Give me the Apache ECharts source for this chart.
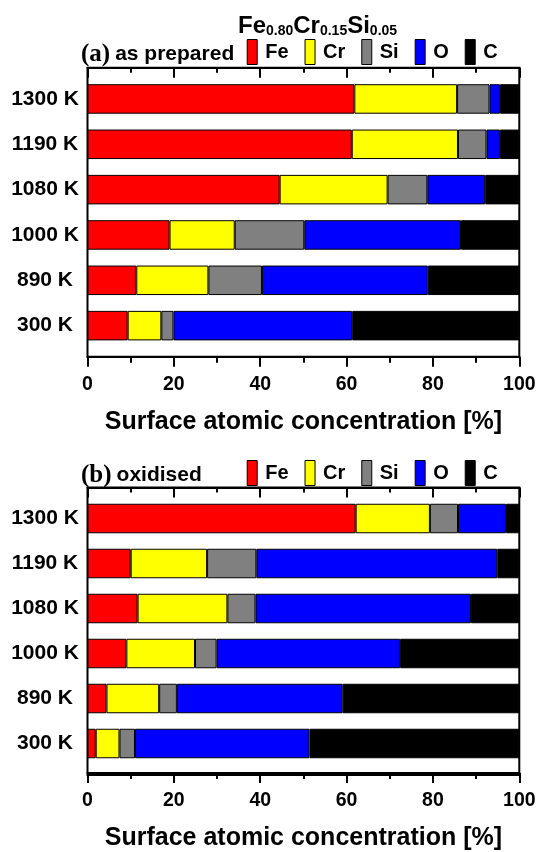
<!DOCTYPE html>
<html>
<head>
<meta charset="utf-8">
<script src="https://cdn.jsdelivr.net/npm/echarts@6/dist/echarts.min.js"></script>
<style>
  html, body { margin: 0; padding: 0; background: #fff; }
  #chart { width: 539px; height: 852px; }
</style>
</head>
<body>
<div id="chart"></div>
<script>
// Annealing temperatures, top to bottom
const categories = ['1300 K', '1190 K', '1080 K', '1000 K', '890 K', '300 K'];
const elements = ['Fe', 'Cr', 'Si', 'O', 'C'];
const elementColors = ['#ff0000', '#ffff00', '#808080', '#0000ff', '#000000'];
const xTicks = [0, 20, 40, 60, 80, 100];

// (a) as prepared — surface atomic concentration [%]
const preparedFe = [61.8, 61.2, 44.5, 19.0, 11.3, 9.3];
const preparedCr = [23.8, 24.6, 25.0, 15.1, 16.7, 7.8];
const preparedSi = [7.5, 6.6, 9.2, 16.1, 12.4, 2.8];
const preparedO  = [2.4, 3.1, 13.4, 36.3, 38.4, 41.4];
const preparedC  = [4.5, 4.5, 7.9, 13.5, 21.2, 38.7];

// (b) oxidised — surface atomic concentration [%]
const oxidisedFe = [62.1, 10.0, 11.6, 9.0, 4.4, 1.9];
const oxidisedCr = [17.2, 17.7, 20.8, 15.9, 12.2, 5.5];
const oxidisedSi = [6.5, 11.4, 6.5, 5.0, 4.1, 3.6];
const oxidisedO  = [11.1, 55.8, 49.9, 42.5, 38.4, 40.4];
const oxidisedC  = [3.1, 5.1, 11.2, 27.6, 40.9, 48.6];

const prepared = [preparedFe, preparedCr, preparedSi, preparedO, preparedC];
const oxidised = [oxidisedFe, oxidisedCr, oxidisedSi, oxidisedO, oxidisedC];

const SANS = 'Liberation Sans, Arial, sans-serif';
const SERIF = 'Liberation Serif, Times New Roman, serif';

const plotLeft = 87.5, plotRight = 19.7, barsH = 272;
const panels = [
  { frameTop: 67.7, frameH: 289, barsTop: 76.3, data: prepared, label: 'as prepared', tag: '(a)', legendTop: 39, labelTop: 37 },
  { frameTop: 487.5, frameH: 287.5, barsTop: 496, data: oxidised, label: 'oxidised', tag: '(b)', legendTop: 460, labelTop: 458 }
];

const grid = [], xAxis = [], yAxis = [], series = [], legend = [];
const title = [{
  left: 233, top: 5,
  text: '{m|Fe}{s|0.80}{m|Cr}{s|0.15}{m|Si}{s|0.05}',
  textStyle: {
    rich: {
      m: { fontFamily: SANS, fontWeight: 'bold', fontSize: 24, color: '#000', lineHeight: 28, verticalAlign: 'bottom' },
      s: { fontFamily: SANS, fontWeight: 'bold', fontSize: 14, color: '#000', lineHeight: 10, verticalAlign: 'bottom' }
    }
  }
}];

// extra right padding evens out the spacing between legend entries
const labelPadRight = { Fe: 0, Cr: 1.1, Si: 4.4, O: 4.1, C: 0 };
const legendRich = {};
elements.forEach(e => {
  legendRich[e] = { fontFamily: SANS, fontWeight: 'bold', fontSize: 20, color: '#000', padding: [0, labelPadRight[e], 0, 3] };
});

panels.forEach((p, i) => {
  const gFrame = grid.length;
  // boxed frame around the panel, carrying the top axis with inward ticks
  grid.push({
    left: plotLeft, right: plotRight, top: p.frameTop, height: p.frameH,
    show: true, borderColor: '#000', borderWidth: 2, backgroundColor: 'transparent', containLabel: false
  });
  const gBars = grid.length;
  grid.push({ left: plotLeft, right: plotRight, top: p.barsTop, height: barsH, containLabel: false });

  xAxis.push({
    gridIndex: gFrame, type: 'value', position: 'top', min: 0, max: 100, interval: 20,
    axisLine: { show: true, onZero: false, lineStyle: { color: '#000', width: 2 } },
    axisTick: { show: true, inside: true, length: 10, lineStyle: { color: '#000', width: 2 } },
    minorTick: { show: true, splitNumber: 2, length: 5, lineStyle: { color: '#000', width: 2 } },
    splitLine: { show: false }, axisLabel: { show: false }
  });
  yAxis.push({
    gridIndex: gFrame, type: 'value', min: 0, max: 1, show: false
  });

  // bar grid: bottom axis pushed down onto the frame edge
  const xBars = xAxis.length;
  xAxis.push({
    gridIndex: gBars, type: 'value', position: 'bottom', min: 0, max: 100, interval: 20,
    offset: (p.frameTop + p.frameH) - (p.barsTop + barsH),
    axisLine: { show: true, onZero: false, lineStyle: { color: '#000', width: 2 } },
    axisTick: { show: true, length: 10, lineStyle: { color: '#000', width: 2 } },
    minorTick: { show: true, splitNumber: 2, length: 6, lineStyle: { color: '#000', width: 2 } },
    splitLine: { show: false },
    axisLabel: {
      show: true, margin: 18, color: '#000', fontFamily: SANS, fontWeight: 'bold', fontSize: 19.5,
      formatter: v => (xTicks.indexOf(v) >= 0 ? String(v) : '')
    },
    name: 'Surface atomic concentration [%]', nameLocation: 'middle', nameGap: 53,
    nameTextStyle: { color: '#000', fontFamily: SANS, fontWeight: 'bold', fontSize: 25 }
  });
  const yBars = yAxis.length;
  yAxis.push({
    gridIndex: gBars, type: 'category', data: categories, inverse: true,
    axisLine: { show: false }, axisTick: { show: false }, splitLine: { show: false },
    axisLabel: { show: true, margin: 42.5, align: 'center', color: '#000', fontFamily: SANS, fontWeight: 'bold', fontSize: 21 }
  });

  elements.forEach((el, k) => {
    series.push({
      type: 'bar', name: el, stack: 'panel' + i,
      xAxisIndex: xBars, yAxisIndex: yBars,
      data: p.data[k], barWidth: 29.5,
      itemStyle: { color: elementColors[k], borderColor: '#000', borderWidth: 1 },
      emphasis: { disabled: true }, animation: false
    });
  });

  legend.push({
    data: elements, left: 246.7, top: p.legendTop, orient: 'horizontal', padding: 0,
    icon: 'rect', itemWidth: 10, itemHeight: 25, itemGap: 16, selectedMode: false,
    itemStyle: { borderColor: '#000', borderWidth: 1 },
    formatter: name => '{' + name + '|' + name + '}',
    textStyle: { rich: legendRich }
  });

  title.push({
    left: 76, top: p.labelTop,
    text: '{p|' + p.tag + '} {t|' + p.label + '}',
    textStyle: {
      rich: {
        p: { fontFamily: SERIF, fontWeight: 'bold', fontSize: 25, color: '#000' },
        t: { fontFamily: SANS, fontWeight: 'bold', fontSize: 21, color: '#000' }
      }
    }
  });
});

const chart = echarts.init(document.getElementById('chart'), null, { renderer: 'canvas' });
chart.setOption({
  backgroundColor: '#fff',
  animation: false,
  title, grid, xAxis, yAxis, series, legend
});
</script>
</body>
</html>
